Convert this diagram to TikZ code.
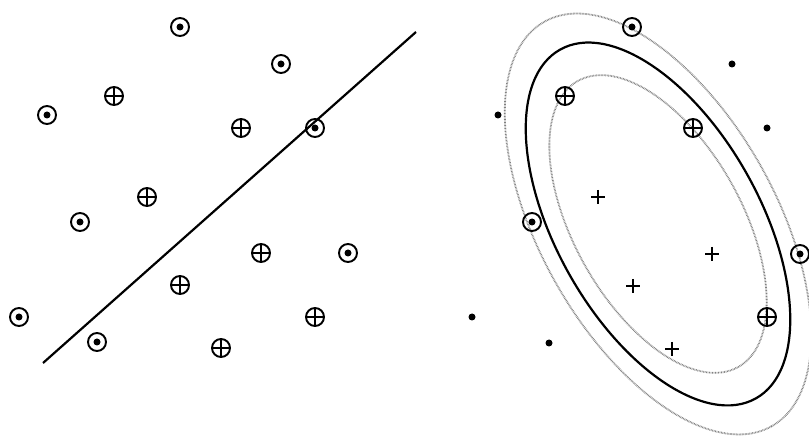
\documentclass[tikz,border=0pt]{standalone}
\usepackage{tikz}
\usetikzlibrary{arrows.meta,positioning}

\begin{document}
\begin{tikzpicture}[
    x=1pt, y=-1pt,
    marker/.style={
        circle,
        draw,
        line width=1.9pt,
        minimum size=18pt,
        inner sep=0pt
    },
    negsv/.style={
        marker,
        path picture={
            \fill (path picture bounding box.center) circle (3.5pt);
        }
    },
    possv/.style={
        marker,
        path picture={
            \draw[line width=1.5pt]
                (path picture bounding box.north) -- (path picture bounding box.south)
                (path picture bounding box.west) -- (path picture bounding box.east);
        }
    },
    posdot/.style={
        minimum size=14pt,
        inner sep=0pt,
        path picture={
            \draw[line width=1.9pt]
                (path picture bounding box.north) -- (path picture bounding box.south)
                (path picture bounding box.west) -- (path picture bounding box.east);
        }
    },
    negdot/.style={
        circle,
        fill,
        inner sep=0pt,
        minimum size=7pt
    },
    margin/.style={
        draw=gray,
        line width=1.8pt,
        dash pattern=on 0.7pt off 0.8pt
    },
    boundary/.style={
        line width=2.2pt
    }
]

\useasboundingbox (0,0) rectangle (809,438);

%---------------------------------------------------------------------
% Linear separation
%---------------------------------------------------------------------

\coordinate (lstart) at (43,363);
\coordinate (lend) at (416,32);
\draw[boundary] (lstart) -- (lend);

\node[negsv] (ln1) at (180,27) {};
\node[negsv] (ln2) at (281,64) {};
\node[negsv] (ln3) at (47,115) {};
\node[negsv] (ln4) at (315,128) {};
\node[negsv] (ln5) at (80,222) {};
\node[negsv] (ln6) at (348,253) {};
\node[negsv] (ln7) at (19,317) {};
\node[negsv] (ln8) at (97,342) {};

\node[possv] (lp1) at (114,96) {};
\node[possv] (lp2) at (241,128) {};
\node[possv] (lp3) at (147,197) {};
\node[possv] (lp4) at (261,253) {};
\node[possv] (lp5) at (180,285) {};
\node[possv] (lp6) at (315,317) {};
\node[possv] (lp7) at (221,348) {};

%---------------------------------------------------------------------
% Elliptic separation with margins
%---------------------------------------------------------------------

\coordinate (ec) at (658,224);
\draw[margin, rotate around={-60.7:(ec)}] (ec) ellipse [x radius=232pt, y radius=118pt];
\draw[boundary, rotate around={-60.7:(ec)}] (ec) ellipse [x radius=200pt, y radius=102pt];
\draw[margin, rotate around={-60.7:(ec)}] (ec) ellipse [x radius=164pt, y radius=84pt];

\node[negsv] (rn1) at (632,27) {};
\node[negsv] (rn2) at (532,222) {};
\node[negsv] (rn3) at (800,254) {};

\node[possv] (rp1) at (565,96) {};
\node[possv] (rp2) at (693,128) {};
\node[possv] (rp3) at (767,317) {};

\node[posdot] (rx1) at (598,197) {};
\node[posdot] (rx2) at (712,254) {};
\node[posdot] (rx3) at (633,286) {};
\node[posdot] (rx4) at (672,349) {};

\node[negdot] (rd1) at (732,64) {};
\node[negdot] (rd2) at (498,115) {};
\node[negdot] (rd3) at (767,128) {};
\node[negdot] (rd4) at (472,317) {};
\node[negdot] (rd5) at (549,343) {};

\end{tikzpicture}
\end{document}
